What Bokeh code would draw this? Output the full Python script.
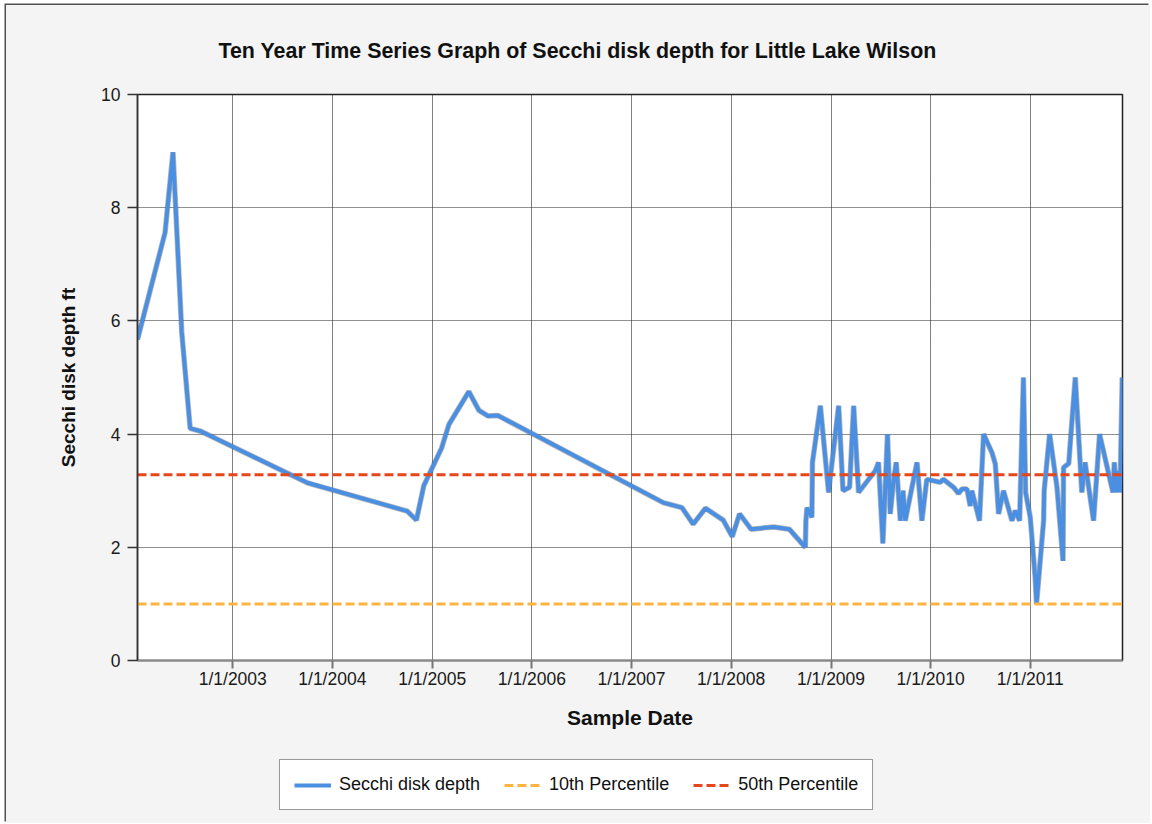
import pandas as pd
from bokeh.plotting import figure
from bokeh.layouts import column
from bokeh.models import Range1d, FixedTicker, Legend, LegendItem, InlineStyleSheet
from bokeh.embed import file_html
from bokeh.resources import INLINE

# ---- data ----
sample_dates = [
    "2002-01-17", "2002-04-28", "2002-05-27", "2002-06-28", "2002-07-29", "2002-09-06",
    "2003-10-01", "2004-10-01", "2004-11-04", "2004-12-01", "2005-02-04", "2005-03-03",
    "2005-05-15", "2005-06-21", "2005-07-24", "2005-08-29", "2007-04-27", "2007-07-05",
    "2007-08-15", "2007-09-29", "2007-12-03", "2008-01-05", "2008-02-01", "2008-03-14",
    "2008-06-05", "2008-08-01", "2008-09-29", "2008-10-01", "2008-10-05", "2008-10-23",
    "2008-10-25", "2008-11-23", "2008-12-23", "2009-01-29", "2009-02-14", "2009-03-10",
    "2009-03-25", "2009-04-12", "2009-06-12", "2009-06-24", "2009-07-10", "2009-07-27",
    "2009-08-06", "2009-08-18", "2009-08-28", "2009-09-12", "2009-09-22", "2009-09-30",
    "2009-11-12", "2009-11-30", "2009-12-18", "2010-02-05", "2010-02-17", "2010-03-26",
    "2010-04-13", "2010-04-26", "2010-05-14", "2010-05-26", "2010-06-01", "2010-06-29",
    "2010-07-14", "2010-08-14", "2010-08-26", "2010-09-07", "2010-09-25", "2010-10-26",
    "2010-11-07", "2010-11-23", "2010-12-07", "2010-12-15", "2011-01-01", "2011-01-19",
    "2011-01-24", "2011-02-19", "2011-02-21", "2011-03-13", "2011-04-09", "2011-05-01",
    "2011-05-03", "2011-05-22", "2011-06-15", "2011-07-09", "2011-07-21", "2011-08-21",
    "2011-09-12", "2011-10-31", "2011-11-05", "2011-11-12", "2011-11-20", "2011-11-26",
    "2011-12-04", "2011-12-05",
]
secchi_depth_ft = [
    5.67, 7.56, 8.98, 5.81, 4.10, 4.05,
    3.14, 2.64, 2.48, 3.09, 3.75, 4.17,
    4.75, 4.42, 4.32, 4.33, 2.79, 2.70,
    2.41, 2.69, 2.48, 2.19, 2.59, 2.32,
    2.36, 2.32, 2.00, 2.47, 2.70, 2.53,
    3.50, 4.50, 2.97, 4.50, 3.00, 3.06,
    4.50, 2.97, 3.35, 3.50, 2.07, 4.00,
    2.59, 3.17, 3.50, 2.47, 3.00, 2.47,
    3.50, 2.47, 3.20, 3.15, 3.20, 3.06,
    2.95, 3.03, 3.03, 2.73, 3.00, 2.47,
    4.00, 3.67, 3.47, 2.59, 3.00, 2.47,
    2.65, 2.47, 5.00, 2.97, 2.53, 1.47,
    1.00, 2.47, 3.00, 4.00, 3.06, 1.76,
    3.41, 3.48, 5.00, 2.97, 3.50, 2.47,
    4.00, 2.97, 3.50, 2.97, 3.35, 2.97,
    5.00, 3.97,
]
percentile_10 = 1.0
percentile_50 = 3.28

tick_dates = ["2003-01-01", "2004-01-01", "2005-01-01", "2006-01-01", "2007-01-01",
              "2008-01-01", "2009-01-01", "2010-01-01", "2011-01-01"]
tick_labels = ["1/1/2003", "1/1/2004", "1/1/2005", "1/1/2006", "1/1/2007",
               "1/1/2008", "1/1/2009", "1/1/2010", "1/1/2011"]
y_ticks = [0, 2, 4, 6, 8, 10]

title_text = "Ten Year Time Series Graph of Secchi disk depth for Little Lake Wilson"
x_label = "Sample Date"
y_label = "Secchi disk depth ft"
legend_labels = ["Secchi disk depth", "10th Percentile", "50th Percentile"]


def to_ms(dates):
    idx = pd.to_datetime(dates)
    return [float((d - pd.Timestamp("1970-01-01")) // pd.Timedelta("1ms")) for d in idx]


xs = to_ms(sample_dates)
tick_ms = to_ms(tick_dates)
x0, x1 = xs[0], xs[-1]

FONT = "Liberation Sans"
BG = "#f4f4f4"
BLUE = "#4a8fe2"
ORANGE = "#ffb340"
RED = "#e5461a"
DASH = "9 4"

# ---------------- main chart ----------------
p = figure(width=1144, height=740, output_backend="svg", toolbar_location=None,
           x_range=Range1d(x0, x1), y_range=Range1d(0, 10),
           min_border_left=131, min_border_right=28, min_border_top=88, min_border_bottom=85,
           background_fill_color="white", border_fill_color=BG)
p.outline_line_color = "#222222"
p.outline_line_width = 1.5

p.title.text = title_text
p.title.text_font = FONT
p.title.text_font_size = "21.4px"
p.title.text_font_style = "bold"
p.title.text_color = "#111111"
p.title.align = "left"
p.title.offset = 81
p.title.standoff = 63

p.xaxis.ticker = FixedTicker(ticks=tick_ms)
p.xaxis.major_label_overrides = {t: lab for t, lab in zip(tick_ms, tick_labels)}
p.yaxis.ticker = FixedTicker(ticks=y_ticks)
for ax in (p.xaxis, p.yaxis):
    ax.major_label_text_font = FONT
    ax.major_label_text_font_size = "17.5px"
    ax.major_label_text_color = "#1a1a1a"
    ax.axis_label_text_font = FONT
    ax.axis_label_text_font_style = "bold"
    ax.axis_label_text_color = "#111111"
    ax.minor_tick_line_color = None
    ax.major_tick_in = 0
p.xaxis.axis_label = x_label
p.yaxis.axis_label = y_label
p.xaxis.axis_label_text_font_size = "21px"
p.yaxis.axis_label_text_font_size = "19px"
p.xaxis.axis_line_color = "#8a8a8a"
p.xaxis.axis_line_width = 2
p.xaxis.major_tick_line_color = "#777777"
p.xaxis.major_tick_line_width = 2
p.xaxis.major_tick_out = 8
p.xaxis.major_label_standoff = 0
p.xaxis.axis_label_standoff = 14
p.yaxis.axis_line_color = "#333333"
p.yaxis.axis_line_width = 1.5
p.yaxis.major_tick_line_color = "#333333"
p.yaxis.major_tick_line_width = 1.5
p.yaxis.major_tick_out = 10
p.yaxis.major_label_standoff = 7
p.yaxis.axis_label_standoff = 19

p.xgrid.ticker = FixedTicker(ticks=tick_ms)
p.ygrid.ticker = FixedTicker(ticks=y_ticks)
p.xgrid.grid_line_color = "#000000"
p.xgrid.grid_line_dash = "1 1"
p.xgrid.grid_line_width = 1
p.ygrid.grid_line_color = "#222222"
p.ygrid.grid_line_dash = "1 1"
p.ygrid.grid_line_width = 1

p.line(xs, secchi_depth_ft, line_color="#333333", line_width=5.5, line_alpha=0.35)
p.line(xs, secchi_depth_ft, line_color=BLUE, line_width=4)
p.line([x0, x1], [percentile_10, percentile_10], line_color=ORANGE, line_width=3, line_dash=DASH)
p.line([x0, x1], [percentile_50, percentile_50], line_color=RED, line_width=3, line_dash=DASH)

# ---------------- legend strip ----------------
pl = figure(width=1144, height=74, output_backend="svg", toolbar_location=None,
            x_range=Range1d(0, 1), y_range=Range1d(0, 1), x_axis_type=None, y_axis_type=None,
            min_border=0, background_fill_color=BG, border_fill_color=BG)
pl.outline_line_color = None
pl.grid.visible = False
# legend-only renderers (their points lie outside the strip's visible range)
off = [-5.0, -4.0]
l1 = pl.line(off, off, line_color=BLUE, line_width=4)
l2 = pl.line(off, off, line_color=ORANGE, line_width=3, line_dash=DASH)
l3 = pl.line(off, off, line_color=RED, line_width=3, line_dash=DASH)
legend = Legend(items=[LegendItem(label=lab, renderers=[r])
                       for lab, r in zip(legend_labels, [l1, l2, l3])],
                orientation="horizontal", location=(142, 9))
legend.label_text_font = FONT
legend.label_text_font_size = "18px"
legend.label_text_color = "#111111"
legend.border_line_color = "#333333"
legend.border_line_width = 1.2
legend.background_fill_color = "white"
legend.background_fill_alpha = 1
legend.glyph_width = 37
legend.glyph_height = 20
legend.label_standoff = 8
legend.spacing = 24
legend.padding = 14
legend.margin = 0
pl.add_layout(legend, "center")

layout = column(p, pl, spacing=0)
layout.stylesheets = [InlineStyleSheet(
    css=":host { margin-left: 6px; margin-top: 5px; padding-bottom: 4px; "
        "background-color: #f4f4f4; box-shadow: -1.5px -1.5px 0 0 #505050; }")]

open("out.html", "w").write(file_html(layout, INLINE))
